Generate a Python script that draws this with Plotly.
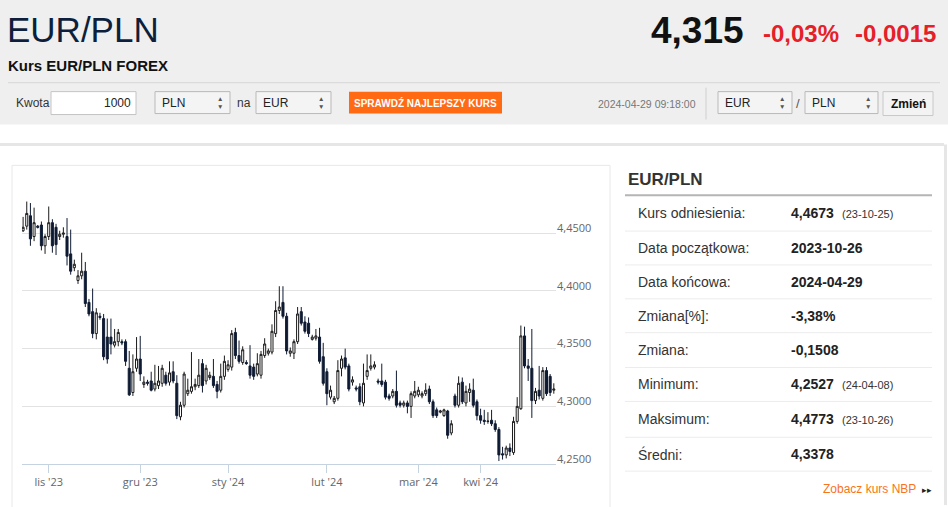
import plotly.graph_objects as go

# EUR/PLN daily candles
opens = [4.452, 4.456, 4.465, 4.447, 4.456, 4.457, 4.439, 4.447, 4.459, 4.455,
         4.447, 4.449, 4.447, 4.432, 4.420, 4.409, 4.413, 4.417, 4.390, 4.382,
         4.363, 4.378, 4.376, 4.360, 4.360, 4.353, 4.356, 4.356, 4.356, 4.333,
         4.312, 4.333, 4.341, 4.319, 4.321, 4.322, 4.315, 4.318, 4.320, 4.327,
         4.321, 4.330, 4.320, 4.291, 4.301, 4.311, 4.313, 4.317, 4.318, 4.337,
         4.322, 4.325, 4.326, 4.319, 4.314, 4.326, 4.332, 4.334, 4.364, 4.344,
         4.338, 4.338, 4.335, 4.334, 4.328, 4.327, 4.344, 4.346, 4.347, 4.363,
         4.383, 4.390, 4.378, 4.346, 4.346, 4.356, 4.382, 4.373, 4.372, 4.358,
         4.359, 4.360, 4.343, 4.330, 4.308, 4.304, 4.307, 4.333, 4.342, 4.335,
         4.321, 4.316, 4.317, 4.303, 4.326, 4.333, 4.334, 4.322, 4.322, 4.321,
         4.309, 4.309, 4.313, 4.303, 4.301, 4.303, 4.300, 4.309, 4.310, 4.309,
         4.311, 4.315, 4.304, 4.297, 4.295, 4.292, 4.296, 4.277, 4.309, 4.301,
         4.321, 4.303, 4.312, 4.314, 4.304, 4.292, 4.288, 4.287, 4.288, 4.285,
         4.280, 4.259, 4.258, 4.264, 4.260, 4.287, 4.298, 4.361, 4.335, 4.333,
         4.305, 4.314, 4.307, 4.331, 4.326, 4.314]
highs = [4.464, 4.4773, 4.476, 4.472, 4.457, 4.460, 4.449, 4.473, 4.462, 4.458,
         4.452, 4.455, 4.463, 4.453, 4.427, 4.418, 4.433, 4.425, 4.393, 4.402,
         4.385, 4.381, 4.380, 4.376, 4.376, 4.367, 4.367, 4.358, 4.358, 4.348,
         4.345, 4.360, 4.361, 4.326, 4.323, 4.330, 4.336, 4.335, 4.336, 4.330,
         4.339, 4.339, 4.327, 4.304, 4.330, 4.324, 4.347, 4.324, 4.341, 4.341,
         4.336, 4.330, 4.341, 4.322, 4.337, 4.344, 4.340, 4.366, 4.368, 4.357,
         4.352, 4.340, 4.353, 4.337, 4.346, 4.348, 4.359, 4.350, 4.371, 4.391,
         4.404, 4.404, 4.381, 4.351, 4.358, 4.386, 4.386, 4.378, 4.377, 4.362,
         4.367, 4.368, 4.355, 4.333, 4.318, 4.309, 4.340, 4.344, 4.350, 4.337,
         4.326, 4.318, 4.320, 4.337, 4.345, 4.345, 4.339, 4.324, 4.337, 4.323,
         4.311, 4.315, 4.331, 4.305, 4.305, 4.305, 4.313, 4.322, 4.317, 4.313,
         4.320, 4.318, 4.306, 4.299, 4.297, 4.298, 4.297, 4.288, 4.311, 4.326,
         4.325, 4.318, 4.320, 4.324, 4.306, 4.298, 4.297, 4.295, 4.297, 4.288,
         4.282, 4.265, 4.266, 4.268, 4.291, 4.308, 4.370, 4.369, 4.341, 4.367,
         4.316, 4.335, 4.334, 4.334, 4.328, 4.320]
lows = [4.451, 4.453, 4.439, 4.443, 4.454, 4.435, 4.432, 4.444, 4.433, 4.431,
        4.444, 4.446, 4.422, 4.414, 4.417, 4.406, 4.410, 4.386, 4.378, 4.359,
        4.358, 4.375, 4.340, 4.337, 4.345, 4.351, 4.352, 4.353, 4.335, 4.309,
        4.309, 4.330, 4.322, 4.316, 4.318, 4.313, 4.313, 4.315, 4.317, 4.318,
        4.318, 4.320, 4.289, 4.288, 4.299, 4.309, 4.311, 4.314, 4.316, 4.312,
        4.319, 4.323, 4.316, 4.307, 4.312, 4.323, 4.330, 4.331, 4.341, 4.337,
        4.336, 4.336, 4.324, 4.323, 4.326, 4.324, 4.342, 4.344, 4.345, 4.360,
        4.380, 4.376, 4.345, 4.343, 4.341, 4.354, 4.370, 4.363, 4.360, 4.357,
        4.357, 4.337, 4.318, 4.301, 4.306, 4.302, 4.305, 4.326, 4.332, 4.313,
        4.318, 4.313, 4.301, 4.300, 4.323, 4.331, 4.332, 4.319, 4.317, 4.306,
        4.305, 4.307, 4.299, 4.299, 4.299, 4.294, 4.290, 4.307, 4.308, 4.307,
        4.309, 4.302, 4.290, 4.290, 4.294, 4.291, 4.272, 4.275, 4.299, 4.299,
        4.302, 4.300, 4.304, 4.299, 4.288, 4.285, 4.284, 4.285, 4.283, 4.278,
        4.2527, 4.254, 4.255, 4.257, 4.258, 4.285, 4.297, 4.333, 4.322, 4.290,
        4.302, 4.306, 4.305, 4.309, 4.309, 4.311]
closes = [4.455, 4.467, 4.445, 4.459, 4.455, 4.439, 4.447, 4.459, 4.439, 4.440,
          4.449, 4.450, 4.430, 4.417, 4.423, 4.413, 4.417, 4.389, 4.380, 4.363,
          4.381, 4.377, 4.343, 4.341, 4.354, 4.356, 4.364, 4.355, 4.339, 4.310,
          4.330, 4.341, 4.328, 4.321, 4.320, 4.314, 4.320, 4.322, 4.333, 4.320,
          4.329, 4.322, 4.292, 4.301, 4.328, 4.314, 4.317, 4.319, 4.327, 4.318,
          4.333, 4.327, 4.318, 4.313, 4.326, 4.339, 4.336, 4.363, 4.344, 4.339,
          4.349, 4.337, 4.327, 4.326, 4.337, 4.345, 4.354, 4.348, 4.365, 4.383,
          4.386, 4.378, 4.348, 4.348, 4.356, 4.380, 4.372, 4.365, 4.363, 4.360,
          4.361, 4.339, 4.320, 4.311, 4.314, 4.307, 4.331, 4.341, 4.334, 4.315,
          4.323, 4.315, 4.304, 4.320, 4.331, 4.335, 4.336, 4.321, 4.319, 4.308,
          4.307, 4.313, 4.301, 4.301, 4.303, 4.300, 4.311, 4.313, 4.314, 4.311,
          4.314, 4.304, 4.292, 4.292, 4.296, 4.297, 4.275, 4.285, 4.301, 4.320,
          4.304, 4.313, 4.315, 4.301, 4.292, 4.288, 4.287, 4.2872, 4.285, 4.280,
          4.258, 4.258, 4.264, 4.261, 4.287, 4.300, 4.361, 4.335, 4.333, 4.305,
          4.313, 4.309, 4.331, 4.311, 4.312, 4.315]

month_labels = ["lis '23", "gru '23", "sty '24", "lut '24", "mar '24", "kwi '24"]
month_start_idx = [7, 32, 56, 83, 108, 125]

y_ticks = [4.25, 4.30, 4.35, 4.40, 4.45, 4.50]
y_tick_labels = ["4,2500", "4,3000", "4,3500", "4,4000", "4,4500", ""]

info_labels = ["Kurs odniesienia:", "Data początkowa:", "Data końcowa:", "Zmiana[%]:",
               "Zmiana:", "Minimum:", "Maksimum:", "Średni:"]
info_values = ["4,4673", "2023-10-26", "2024-04-29", "-3,38%", "-0,1508",
               "4,2527", "4,4773", "4,3378"]
info_dates = ["(23-10-25)", "", "", "", "", "(24-04-08)", "(23-10-26)", ""]

W, H = 948, 507


def px(x):
    return x / W


def py(y):
    return 1 - y / H


ARIAL = "Liberation Sans, Arial, sans-serif"

fig = go.Figure()
fig.add_trace(go.Candlestick(
    x=list(range(len(opens))),
    open=opens, high=highs, low=lows, close=closes,
    increasing=dict(line=dict(color="#1b1b1b", width=1), fillcolor="#ffffff"),
    decreasing=dict(line=dict(color="#0f1b33", width=1), fillcolor="#0f1b33"),
    hoverinfo="skip",
    showlegend=False,
))

shapes = []
annotations = []


def rect(x0, y0, x1, y1, fill, line="rgba(0,0,0,0)", lw=1):
    shapes.append(dict(type="rect", xref="paper", yref="paper", layer="below",
                       x0=px(x0), x1=px(x1), y0=py(y1), y1=py(y0),
                       fillcolor=fill, line=dict(color=line, width=lw)))


def hline(x0, x1, y, color, lw=1):
    shapes.append(dict(type="line", xref="paper", yref="paper", layer="below",
                       x0=px(x0), x1=px(x1), y0=py(y), y1=py(y),
                       line=dict(color=color, width=lw)))


def vline(x, y0, y1, color, lw=1):
    shapes.append(dict(type="line", xref="paper", yref="paper", layer="below",
                       x0=px(x), x1=px(x), y0=py(y0), y1=py(y1),
                       line=dict(color=color, width=lw)))


def text(x, y, s, size=12, color="#333", anchor="left"):
    annotations.append(dict(xref="paper", yref="paper", x=px(x), y=py(y),
                            text=s, showarrow=False, xanchor=anchor, yanchor="middle",
                            font=dict(size=size, color=color, family=ARIAL)))


def select_box(x0, x1, label):
    rect(x0, 92, x1, 114, "#f4f4f4", "#b9b9b9")
    text(x0 + 5, 103, label, 12, "#222")
    text(x1 - 10, 99, "▲", 6.5, "#555", "center")
    text(x1 - 10, 107, "▼", 6.5, "#555", "center")


# header band
rect(0, 0, W, 125, "#efefef")
hline(8, 940, 83, "#d6d6d6", 1)
text(5, 30, "EUR/PLN", 35, "#0d1f3c")
text(6, 66, "<b>Kurs EUR/PLN FOREX</b>", 15, "#111")
text(746, 31, "<b>4,315</b>", 37, "#111", "right")
text(841, 34, "<b>-0,03%</b>", 24, "#e52028", "right")
text(938, 34, "<b>-0,0015</b>", 24, "#e52028", "right")

# converter row
text(14, 103, "Kwota", 12, "#333")
rect(51, 92, 136, 115, "#ffffff", "#c4c4c4")
text(133, 103, "1000", 12, "#222", "right")
select_box(155, 230, "PLN")
text(235, 103, "na", 12, "#333")
select_box(256, 331, "EUR")
rect(349, 92, 502, 114, "#ff6a13")
text(425, 103, "<b>SPRAWDŹ NAJLEPSZY KURS</b>", 10, "#ffffff", "center")
text(596, 104, "2024-04-29 09:18:00", 10.5, "#777")
vline(706, 88, 120, "#cfcfcf")
select_box(718, 792, "EUR")
text(798, 104, "/", 13, "#555", "center")
select_box(805, 878, "PLN")
rect(883, 92, 933, 116, "#f3f3f3", "#c8c8c8")
text(908, 104, "<b>Zmień</b>", 12, "#111", "center")

# page container and chart box
hline(0, 944, 145, "#e6e6e6", 3)
vline(945.5, 145, H, "#e6e6e6", 3)
rect(12, 166, 610, H + 5, "rgba(0,0,0,0)", "#e8e8e8")

# info panel
text(626, 180, "<b>EUR/PLN</b>", 17, "#333")
hline(625, 932, 196, "#b5b5b5", 2)
row_y = [214, 249, 283, 317, 351, 386, 421, 456]
sep_y = [232, 266, 300, 334, 369, 403, 439, 473]
for lab, val, dt, yy, sy in zip(info_labels, info_values, info_dates, row_y, sep_y):
    text(636, yy, lab, 14, "#333")
    text(789, yy, "<b>" + val + "</b>", 14, "#222")
    if dt:
        text(840, yy + 1, dt, 11, "#333")
    hline(625, 932, sy, "#ececec", 1)
text(918, 491, "Zobacz kurs NBP", 12, "#f7741a", "right")
text(927, 492, "▸▸", 9, "#222", "center")

n = len(opens)
fig.update_layout(
    width=W, height=H,
    margin=dict(l=0, r=0, t=0, b=0),
    paper_bgcolor="#ffffff",
    plot_bgcolor="#ffffff",
    showlegend=False,
    boxgap=0.2,
    shapes=shapes,
    annotations=annotations,
    xaxis=dict(
        domain=[px(22), px(556)],
        range=[-0.3, n - 0.4],
        rangeslider=dict(visible=False),
        tickvals=month_start_idx,
        ticktext=month_labels,
        ticks="outside", ticklen=8, tickcolor="#c5d3e0",
        showline=True, linecolor="#c5d3e0", linewidth=1,
        showgrid=False, zeroline=False,
        tickfont=dict(family="Open Sans, Liberation Sans, Arial", size=11, color="#666"),
    ),
    yaxis=dict(
        domain=[py(466), py(176)],
        range=[4.25, 4.50],
        side="right",
        tickvals=y_ticks,
        ticktext=y_tick_labels,
        ticks="", showline=False, zeroline=False,
        gridcolor="#e2e2e2", gridwidth=1,
        ticklabelshift=-5,
        tickfont=dict(family="Open Sans, Liberation Sans, Arial", size=11, color="#666"),
    ),
)

fig.write_html("out.html", config={"displayModeBar": False},
               post_script="document.body.style.margin='0';")
